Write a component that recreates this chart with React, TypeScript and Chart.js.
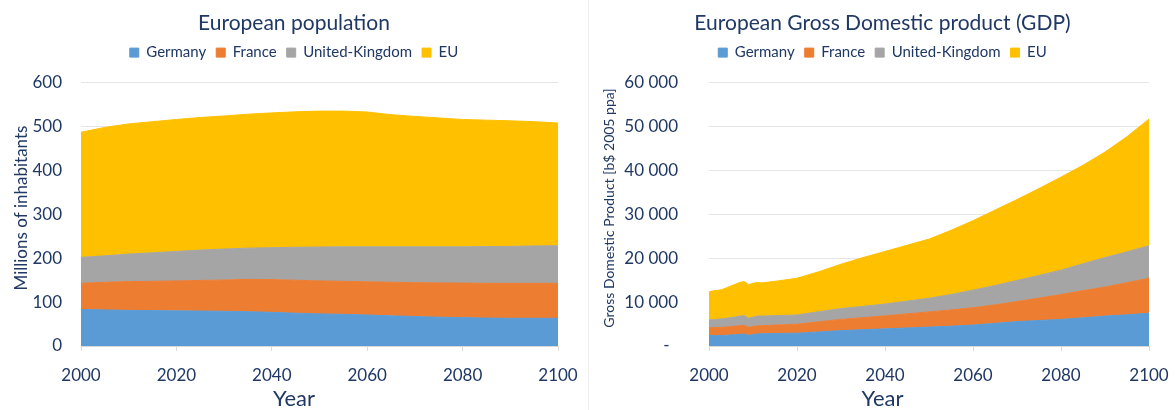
import React, { useEffect, useRef } from 'react';
import { Chart, registerables } from 'chart.js';

Chart.register(...registerables);

// ---------- Data ----------
const popYears = [2000, 2005, 2010, 2015, 2020, 2025, 2030, 2035, 2040, 2045, 2050, 2055, 2060, 2065, 2070, 2075, 2080, 2085, 2090, 2095, 2100];
const popGermany = [83, 82, 81, 80.5, 80, 79.5, 79, 78, 76.5, 74.5, 73, 72, 70.5, 68.5, 67, 65.5, 64.5, 63.5, 63, 63, 63];
const popFrance = [59.5, 63, 65.5, 66.5, 68, 69.5, 71, 73.5, 74.5, 75, 75, 75, 75.5, 76.5, 77, 78, 78.5, 79, 79.5, 79.5, 79.5];
const popUK = [59, 60, 62.5, 65, 67, 69, 70.5, 71, 72.5, 75, 77, 78.5, 79.5, 80.5, 81.5, 82, 82.5, 83.5, 84, 85, 85.5];
const popEU = [284.5, 292, 296, 298, 300, 301.5, 302.5, 304.5, 306.5, 308, 309, 308.5, 306.5, 300.5, 296.5, 293, 289.5, 287.5, 285.5, 282.5, 279];
const popTicks = [0, 100, 200, 300, 400, 500, 600];

const gdpYears = [2000, 2001, 2002, 2003, 2004, 2005, 2006, 2007, 2008, 2009, 2010, 2011, 2012, 2015, 2020, 2025, 2030, 2035, 2040, 2045, 2050, 2055, 2060, 2065, 2070, 2075, 2080, 2085, 2090, 2095, 2100];
const gdpGermany = [2350, 2400, 2400, 2400, 2450, 2500, 2580, 2650, 2700, 2450, 2600, 2750, 2780, 2850, 2900, 3200, 3500, 3700, 3900, 4100, 4300, 4500, 4750, 5150, 5550, 5800, 6050, 6400, 6800, 7100, 7450];
const gdpFrance = [1800, 1800, 1830, 1870, 1880, 1920, 1940, 1970, 2000, 1800, 1850, 1850, 1840, 1900, 2050, 2300, 2550, 2750, 2950, 3200, 3450, 3700, 3950, 4200, 4550, 5100, 5650, 6200, 6600, 7300, 7950];
const gdpUK = [1750, 1800, 1850, 1910, 1970, 2030, 2080, 2180, 2200, 2050, 2100, 2200, 2180, 2150, 2100, 2300, 2450, 2550, 2700, 2900, 3100, 3500, 4000, 4400, 4800, 5150, 5550, 6100, 6700, 7000, 7400];
const gdpEU = [6400, 6550, 6570, 6670, 6950, 7200, 7450, 7650, 7750, 7650, 7700, 7650, 7550, 7800, 8350, 9100, 10100, 11100, 11950, 12700, 13450, 14600, 15800, 17150, 18400, 19750, 21150, 22400, 24000, 26200, 28800];
const gdpTicks = [0, 10000, 20000, 30000, 40000, 50000, 60000];

const yearTicks = [2000, 2020, 2040, 2060, 2080, 2100];

const seriesLabels = ['Germany', 'France', 'United-Kingdom', 'EU'];
const seriesColors = ['#5B9BD5', '#ED7D31', '#A5A5A5', '#FFC000'];

const NAVY = '#1F3864';
const FONT = 'Lato, "Noto Sans", sans-serif';

type PanelSpec = {
  title: string;
  yTitle: string;
  yTitleSize: number;
  yTitlePad: number;
  years: number[];
  values: number[][];
  yTicks: number[];
  yMax: number;
  yWidth: number;
  yTickPad: number;
  rightPad: number;
  yFormat: (v: number) => string;
};

function buildConfig(spec: PanelSpec): any {
  return {
    type: 'line',
    data: {
      datasets: spec.values.map((vals, i) => ({
        label: seriesLabels[i],
        data: vals.map((v, j) => ({ x: spec.years[j], y: v })),
        backgroundColor: seriesColors[i],
        borderColor: seriesColors[i],
        borderWidth: 1,
        pointRadius: 0,
        pointHoverRadius: 0,
        fill: i === 0 ? 'origin' : '-1',
        tension: 0,
      })),
    },
    options: {
      responsive: false,
      maintainAspectRatio: false,
      animation: false,
      devicePixelRatio: 1,
      layout: { padding: 0 },
      plugins: {
        title: {
          display: true,
          text: spec.title,
          color: NAVY,
          font: { family: FONT, size: 21, weight: 'normal', lineHeight: 1.1 },
          padding: { top: 12, bottom: 0 },
        },
        legend: {
          display: true,
          position: 'top',
          labels: {
            boxWidth: 9,
            boxHeight: 9,
            padding: 10,
            color: NAVY,
            font: { family: FONT, size: 15 },
          },
        },
        subtitle: {
          display: true,
          position: 'bottom',
          text: 'Year',
          color: NAVY,
          font: { family: FONT, size: 22, weight: 'normal', lineHeight: 1.0 },
          padding: { top: 0, bottom: 0 },
        },
        tooltip: { enabled: false },
      },
      scales: {
        x: {
          type: 'linear',
          min: yearTicks[0],
          max: yearTicks[yearTicks.length - 1],
          afterBuildTicks: (s: any) => { s.ticks = yearTicks.map((v) => ({ value: v })); },
          ticks: {
            color: NAVY,
            font: { family: FONT, size: 17 },
            padding: 14,
            maxRotation: 0,
            autoSkip: false,
            callback: (v: number) => String(v),
          },
          grid: { drawOnChartArea: false, drawTicks: true, tickLength: 5, color: '#D9D9D9' },
          border: { display: true, color: '#D9D9D9' },
          afterFit: (s: any) => { s.height = 42; s.paddingRight = spec.rightPad; },
        },
        y: {
          stacked: true,
          min: 0,
          max: spec.yMax,
          afterBuildTicks: (s: any) => { s.ticks = spec.yTicks.map((v) => ({ value: v })); },
          ticks: {
            color: NAVY,
            autoSkip: false,
            font: { family: FONT, size: 17 },
            padding: spec.yTickPad,
            callback: (v: number) => spec.yFormat(v),
          },
          grid: { color: '#E5E5E5', drawTicks: false },
          border: { display: false },
          title: {
            display: true,
            text: spec.yTitle,
            color: NAVY,
            font: { family: FONT, size: spec.yTitleSize, lineHeight: 1.2 },
            padding: { top: spec.yTitlePad, bottom: 0 },
          },
          afterFit: (s: any) => { s.width = spec.yWidth; },
        },
      },
    },
  };
}

const popSpec: PanelSpec = {
  title: 'European population',
  yTitle: 'Millions of inhabitants',
  yTitleSize: 17,
  yTitlePad: 11,
  years: popYears,
  values: [popGermany, popFrance, popUK, popEU],
  yTicks: popTicks,
  yMax: 627.27,
  yWidth: 81,
  yTickPad: 19,
  rightPad: 30,
  yFormat: (v) => String(v),
};

const gdpSpec: PanelSpec = {
  title: 'European Gross Domestic product (GDP)',
  yTitle: 'Gross Domestic Product [b$ 2005 ppa]',
  yTitleSize: 14,
  yTitlePad: 11,
  years: gdpYears,
  values: [gdpGermany, gdpFrance, gdpUK, gdpEU],
  yTicks: gdpTicks,
  yMax: 62727,
  yWidth: 119,
  yTickPad: 31,
  rightPad: 26,
  yFormat: (v) => (v === 0 ? '-\u2002' : String(v).replace(/\B(?=(\d{3})+(?!\d))/g, ' ')),
};

function Panel({ spec, left, width }: { spec: PanelSpec; left: number; width: number }) {
  const ref = useRef<HTMLCanvasElement>(null);
  useEffect(() => {
    if (!ref.current) return;
    const chart = new Chart(ref.current, buildConfig(spec));
    return () => chart.destroy();
  }, [spec]);
  return (
    <canvas
      ref={ref}
      width={width}
      height={410}
      style={{ position: 'absolute', left, top: 0, width, height: 410 }}
    />
  );
}

export default function App() {
  return (
    <div style={{ position: 'absolute', left: 0, top: 0, width: 1175, height: 410, background: '#fff', overflow: 'hidden' }}>
      <Panel spec={popSpec} left={0} width={588} />
      <div style={{ position: 'absolute', left: 588, top: 0, width: 1, height: 410, background: '#EEEEEE' }} />
      <Panel spec={gdpSpec} left={590} width={585} />
    </div>
  );
}
